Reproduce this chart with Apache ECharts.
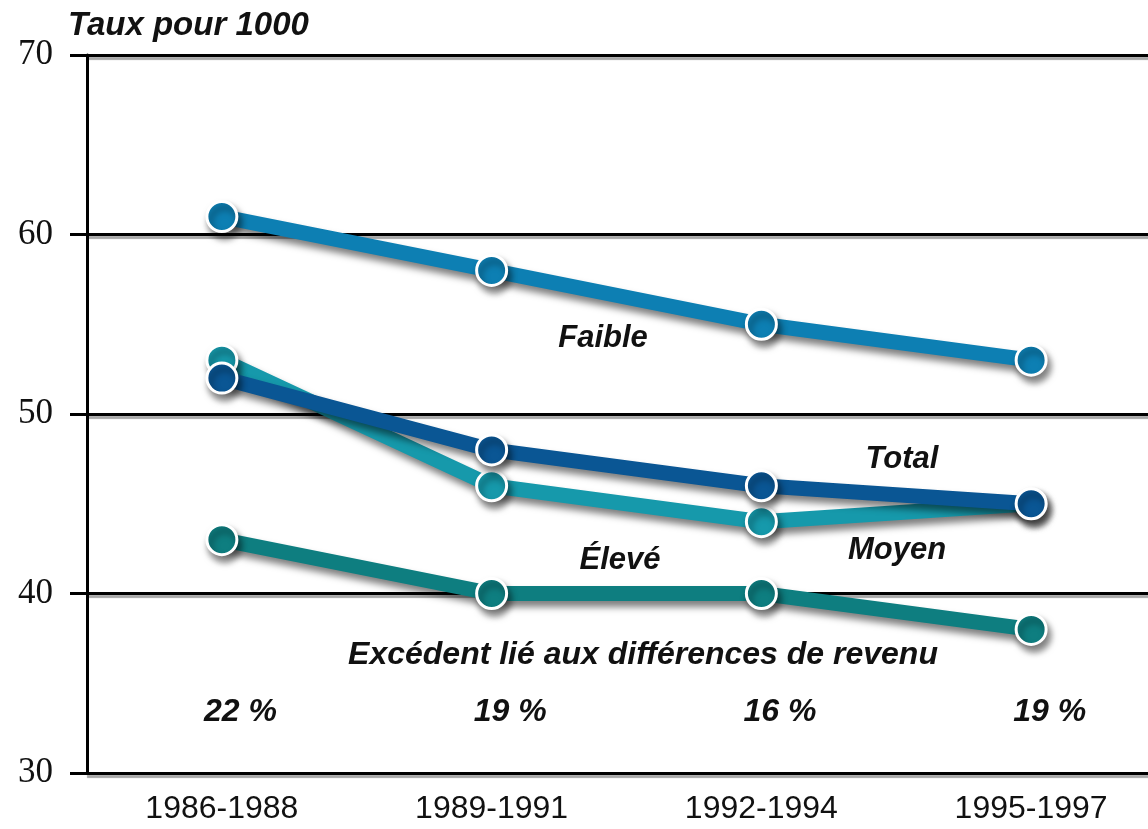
<!DOCTYPE html>
<html>
<head>
<meta charset="utf-8">
<script src="https://cdn.jsdelivr.net/npm/echarts@6/dist/echarts.min.js"></script>
<style>html,body{margin:0;padding:0;background:#fff;overflow:hidden;width:1148px;height:829px;}#c{width:1166px;height:829px;}</style>
</head>
<body>
<div id="c"></div>
<script>
const categories = ['1986-1988', '1989-1991', '1992-1994', '1995-1997'];
const faible = [61, 58, 55, 53];
const total = [52, 48, 46, 45];
const moyen = [53, 46, 44, 45];
const eleve = [43, 40, 40, 38];
const excedent = ['22 %', '19 %', '16 %', '19 %'];
const excedentLevel = 33.4;
const yTicks = [30, 40, 50, 60, 70];

const chart = echarts.init(document.getElementById('c'));
const labelFont = {fontFamily: 'Liberation Sans', fontWeight: 'bold', fontStyle: 'italic', fontSize: 31, fill: '#111'};

function lineSeries(name, data, color, z) {
  return {
    name: name, type: 'line', data: data, z: z,
    symbol: 'circle', symbolSize: 30,
    lineStyle: {color: color, width: 15, shadowColor: 'rgba(0,0,0,0.5)', shadowBlur: 7, shadowOffsetX: 3, shadowOffsetY: 6, cap: 'butt'},
    itemStyle: {color: color, borderColor: '#fff', borderWidth: 3, shadowColor: 'rgba(0,0,0,0.5)', shadowBlur: 7, shadowOffsetX: 3, shadowOffsetY: 6},
    emphasis: {disabled: true}, animation: false
  };
}

chart.setOption({
  animation: false,
  grid: {left: 87, right: 0, top: 55, bottom: 56, containLabel: false},
  xAxis: {
    type: 'category', data: categories, boundaryGap: true,
    axisLine: {lineStyle: {color: '#000', width: 3}},
    axisTick: {inside: true, alignWithLabel: true, length: 16, lineStyle: {color: '#000', width: 2}},
    axisLabel: {fontFamily: 'Liberation Sans', fontSize: 32, color: '#111', margin: 20}
  },
  yAxis: {
    type: 'value', min: yTicks[0], max: yTicks[yTicks.length - 1], interval: 10,
    axisLine: {show: true, lineStyle: {color: '#000', width: 3}},
    axisTick: {show: true, length: 17, lineStyle: {color: '#000', width: 3}},
    axisLabel: {fontFamily: 'Liberation Serif', fontSize: 35, color: '#111', margin: 34},
    splitLine: {show: true, lineStyle: {color: '#000', width: 3, shadowColor: 'rgba(0,0,0,0.35)', shadowOffsetY: 3, shadowBlur: 1}}
  },
  series: [
    lineSeries('Élevé', eleve, '#0e7e80', 2),
    lineSeries('Moyen', moyen, '#1699ab', 3),
    lineSeries('Total', total, '#0a5694', 4),
    lineSeries('Faible', faible, '#0d7fb3', 5),
    {
      type: 'scatter', symbolSize: 1, silent: true, z: 6,
      itemStyle: {color: 'rgba(255,255,255,0)'},
      data: excedent.map(function (t) { return excedentLevel; }),
      label: {show: true, position: 'right', distance: 0, offset: [18, 0], align: 'center',
        formatter: function (p) { return excedent[p.dataIndex]; },
        fontFamily: 'Liberation Sans', fontWeight: 'bold', fontStyle: 'italic', fontSize: 32, color: '#111', opacity: 1}
    }
  ],
  graphic: [
    {type: 'text', left: 68, top: 9, style: {text: 'Taux pour 1000', fontFamily: 'Liberation Sans', fontWeight: 'bold', fontStyle: 'italic', fontSize: 33, fill: '#111'}},
    {type: 'text', x: 603, y: 338, style: Object.assign({text: 'Faible', align: 'center', verticalAlign: 'middle'}, labelFont)},
    {type: 'text', x: 902, y: 459, style: Object.assign({text: 'Total', align: 'center', verticalAlign: 'middle'}, labelFont)},
    {type: 'text', x: 897, y: 550, style: Object.assign({text: 'Moyen', align: 'center', verticalAlign: 'middle'}, labelFont)},
    {type: 'text', x: 620, y: 560, style: Object.assign({text: 'Élevé', align: 'center', verticalAlign: 'middle'}, labelFont)},
    {type: 'text', x: 643, y: 655, style: Object.assign({text: 'Excédent lié aux différences de revenu', align: 'center', verticalAlign: 'middle'}, labelFont, {fontSize: 32})}
  ]
});
</script>
</body>
</html>
